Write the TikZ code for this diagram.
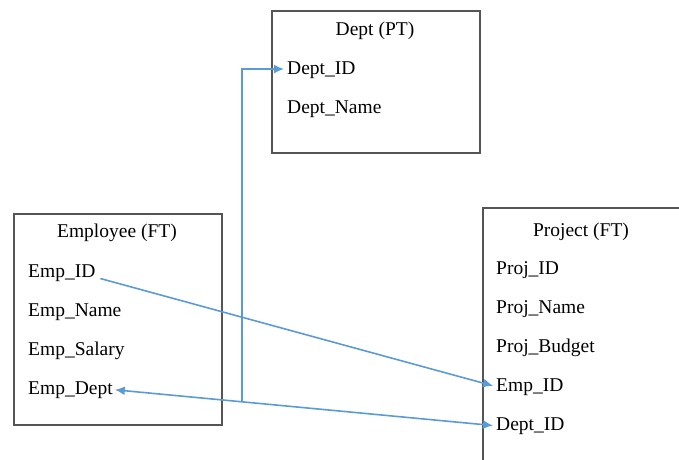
\documentclass[tikz,border=0pt]{standalone}
\usepackage{fontspec}
\setmainfont{Liberation Serif}
\usepackage{xcolor}
\usetikzlibrary{
    arrows.meta,
    calc,
    positioning,
}
\definecolor{linkBlue}{RGB}{91,155,213}
\definecolor{boxGrey}{RGB}{85,85,85}

\begin{document}
\begin{tikzpicture}[x=1pt,y=-1pt,>={Latex[length=10pt,width=9pt]},auto]

    \tikzstyle{commonNode}=[font=\fontsize{19.5}{23}\selectfont, inner sep=0pt]
    \tikzstyle{table}=[rectangle, draw=boxGrey, line width=1.5pt, anchor=north west, minimum width=208pt, inner sep=0pt]
    \tikzstyle{title}=[commonNode, anchor=base]
    \tikzstyle{field}=[commonNode, anchor=base west, text height=10pt, text depth=0pt]
    \tikzstyle{link}=[draw=linkBlue, line width=1.6pt]

    % Page size
    \clip (0,0) rectangle (679,459);

    \begin{scope}
        % Spacing the rows
        \def \rowgap {39.2}

        % Tables
        \node at (271,10)  [table, minimum height=142pt] (Dept)     {};
        \node at (13,213)  [table, minimum height=211pt] (Employee) {};
        \node at (482,207) [table, minimum height=280pt] (Project)  {};

        % Dept (PT)
        \node at (375,35) [title] (DeptT) {Dept (PT)};
        \node at (287,74) [field] (DDeptID)   {Dept\_ID};
        \node at (287,74+\rowgap) [field] (DDeptName) {Dept\_Name};

        % Employee (FT)
        \node at (117,237) [title] (EmpT) {Employee (FT)};
        \node at (28,277)           [field] (EEmpID)     {Emp\_ID};
        \node at (28,277+\rowgap)   [field] (EEmpName)   {Emp\_Name};
        \node at (28,277+2*\rowgap) [field] (EEmpSalary) {Emp\_Salary};
        \node at (28,277+3*\rowgap) [field] (EEmpDept)   {Emp\_Dept};

        % Project (FT)
        \node at (581,236) [title] (ProjT) {Project (FT)};
        \node at (496,274)           [field] (PProjID)     {Proj\_ID};
        \node at (496,274+\rowgap)   [field] (PProjName)   {Proj\_Name};
        \node at (496,274+2*\rowgap) [field] (PProjBudget) {Proj\_Budget};
        \node at (496,274+3*\rowgap) [field] (PEmpID)      {Emp\_ID};
        \node at (496,274+4*\rowgap) [field] (PDeptID)     {Dept\_ID};
    \end{scope}

    % Links
    \draw [link, ->, shorten <=5pt, shorten >=3pt] (EEmpID.south east) -- (PEmpID.west);
    \draw [link, <->, shorten <=2pt, shorten >=3pt] (EEmpDept.east) -- (PDeptID.west);
    \coordinate (Branch) at ($(EEmpDept.east)!0.337!(PDeptID.west)$);
    \draw [link, ->, shorten >=3pt] (Branch) |- (DDeptID.west);

\end{tikzpicture}
\end{document}
